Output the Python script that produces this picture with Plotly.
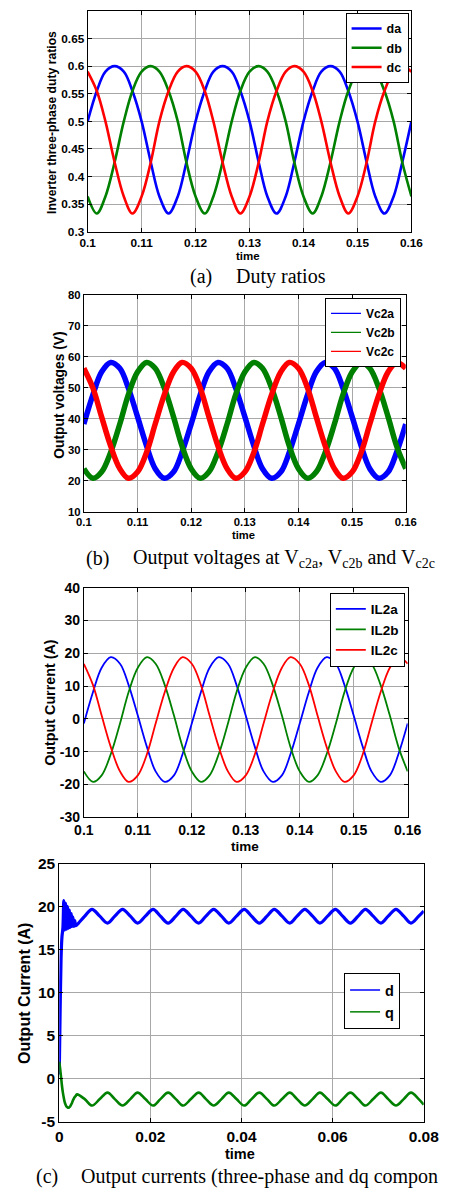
import plotly.graph_objects as go

W, H = 451, 1194

# ---------------- data ----------------
t_abc = [0.1, 0.1017, 0.1033, 0.105, 0.1067, 0.1083, 0.11, 0.1117, 0.1133, 0.115, 0.1167, 0.1183,
         0.12, 0.1217, 0.1233, 0.125, 0.1267, 0.1283, 0.13, 0.1317, 0.1333, 0.135, 0.1367, 0.1383,
         0.14, 0.1417, 0.1433, 0.145, 0.1467, 0.1483, 0.15, 0.1517, 0.1533, 0.155, 0.1567, 0.1583,
         0.16]

da = [0.500, 0.555, 0.590, 0.600, 0.590, 0.555, 0.500, 0.426, 0.364, 0.333, 0.364, 0.426,
      0.500, 0.555, 0.590, 0.600, 0.590, 0.555, 0.500, 0.426, 0.364, 0.333, 0.364, 0.426,
      0.500, 0.555, 0.590, 0.600, 0.590, 0.555, 0.500, 0.426, 0.364, 0.333, 0.364, 0.426,
      0.500]
db = [0.364, 0.333, 0.364, 0.426, 0.500, 0.555, 0.590, 0.600, 0.590, 0.555, 0.500, 0.426,
      0.364, 0.333, 0.364, 0.426, 0.500, 0.555, 0.590, 0.600, 0.590, 0.555, 0.500, 0.426,
      0.364, 0.333, 0.364, 0.426, 0.500, 0.555, 0.590, 0.600, 0.590, 0.555, 0.500, 0.426,
      0.364]
dc = [0.590, 0.555, 0.500, 0.426, 0.364, 0.333, 0.364, 0.426, 0.500, 0.555, 0.590, 0.600,
      0.590, 0.555, 0.500, 0.426, 0.364, 0.333, 0.364, 0.426, 0.500, 0.555, 0.590, 0.600,
      0.590, 0.555, 0.500, 0.426, 0.364, 0.333, 0.364, 0.426, 0.500, 0.555, 0.590, 0.600,
      0.590]

vc2a = [38.3, 47.8, 55.1, 58.2, 56.3, 49.9, 40.7, 31.2, 23.9, 20.8, 22.8, 29.2,
        38.3, 47.8, 55.1, 58.2, 56.3, 49.9, 40.7, 31.2, 23.9, 20.8, 22.8, 29.2,
        38.3, 47.8, 55.1, 58.2, 56.3, 49.9, 40.7, 31.2, 23.9, 20.8, 22.8, 29.2,
        38.3]
vc2b = [23.9, 20.8, 22.8, 29.2, 38.3, 47.8, 55.1, 58.2, 56.3, 49.9, 40.7, 31.2,
        23.9, 20.8, 22.8, 29.2, 38.3, 47.8, 55.1, 58.2, 56.3, 49.9, 40.7, 31.2,
        23.9, 20.8, 22.8, 29.2, 38.3, 47.8, 55.1, 58.2, 56.3, 49.9, 40.7, 31.2,
        23.9]
vc2c = [56.3, 49.9, 40.7, 31.2, 23.9, 20.8, 22.8, 29.2, 38.3, 47.8, 55.1, 58.2,
        56.3, 49.9, 40.7, 31.2, 23.9, 20.8, 22.8, 29.2, 38.3, 47.8, 55.1, 58.2,
        56.3, 49.9, 40.7, 31.2, 23.9, 20.8, 22.8, 29.2, 38.3, 47.8, 55.1, 58.2,
        56.3]

il2a = [-1.4, 8.2, 15.6, 18.8, 16.8, 10.3, 1.0, -8.6, -16.0, -19.2, -17.2, -10.7,
        -1.4, 8.2, 15.6, 18.8, 16.8, 10.3, 1.0, -8.6, -16.0, -19.2, -17.2, -10.7,
        -1.4, 8.2, 15.6, 18.8, 16.8, 10.3, 1.0, -8.6, -16.0, -19.2, -17.2, -10.7,
        -1.4]
il2b = [-16.0, -19.2, -17.2, -10.7, -1.4, 8.2, 15.6, 18.8, 16.8, 10.3, 1.0, -8.6,
        -16.0, -19.2, -17.2, -10.7, -1.4, 8.2, 15.6, 18.8, 16.8, 10.3, 1.0, -8.6,
        -16.0, -19.2, -17.2, -10.7, -1.4, 8.2, 15.6, 18.8, 16.8, 10.3, 1.0, -8.6,
        -16.0]
il2c = [16.8, 10.3, 1.0, -8.6, -16.0, -19.2, -17.2, -10.7, -1.4, 8.2, 15.6, 18.8,
        16.8, 10.3, 1.0, -8.6, -16.0, -19.2, -17.2, -10.7, -1.4, 8.2, 15.6, 18.8,
        16.8, 10.3, 1.0, -8.6, -16.0, -19.2, -17.2, -10.7, -1.4, 8.2, 15.6, 18.8,
        16.8]

t_dq = [0.0, 0.0002, 0.0004, 0.0006, 0.0008, 0.0010, 0.0012, 0.0014, 0.0016, 0.0018,
        0.0020, 0.0022, 0.0024, 0.0026, 0.0028, 0.0030, 0.0032, 0.0034, 0.0036,
        0.0039, 0.0056, 0.0072, 0.0089, 0.0106, 0.0122, 0.0139, 0.0156, 0.0172, 0.0189,
        0.0206, 0.0222, 0.0239, 0.0256, 0.0272, 0.0289, 0.0306, 0.0322, 0.0339, 0.0356,
        0.0372, 0.0389, 0.0406, 0.0422, 0.0439, 0.0456, 0.0472, 0.0489, 0.0506, 0.0522,
        0.0539, 0.0556, 0.0572, 0.0589, 0.0606, 0.0622, 0.0639, 0.0656, 0.0672, 0.0689,
        0.0706, 0.0722, 0.0739, 0.0756, 0.0772, 0.0789, 0.08]
i_d = [0.5, 8.0, 14.0, 16.5, 17.5, 20.7, 17.3, 20.4, 17.4, 20.0,
       17.5, 19.6, 17.6, 19.2, 17.7, 18.8, 17.7, 18.4, 17.8,
       17.9, 18.9, 19.7, 18.9, 18.1, 18.9, 19.7, 18.9, 18.1, 18.9,
       19.7, 18.9, 18.1, 18.9, 19.7, 18.9, 18.1, 18.9, 19.7, 18.9,
       18.1, 18.9, 19.7, 18.9, 18.1, 18.9, 19.7, 18.9, 18.1, 18.9,
       19.7, 18.9, 18.1, 18.9, 19.7, 18.9, 18.1, 18.9, 19.7, 18.9,
       18.1, 18.9, 19.7, 18.9, 18.1, 18.9, 19.5]
i_q = [2.0, 1.2, 0.2, -0.8, -1.6, -2.2, -2.7, -3.0, -3.2, -3.3,
       -3.35, -3.3, -3.2, -3.0, -2.8, -2.5, -2.3, -2.1, -2.0,
       -1.8, -2.35, -3.1, -2.35, -1.6, -2.35, -3.1, -2.35, -1.6, -2.35,
       -3.1, -2.35, -1.6, -2.35, -3.1, -2.35, -1.6, -2.35, -3.1, -2.35,
       -1.6, -2.35, -3.1, -2.35, -1.6, -2.35, -3.1, -2.35, -1.6, -2.35,
       -3.1, -2.35, -1.6, -2.35, -3.1, -2.35, -1.6, -2.35, -3.1, -2.35,
       -1.6, -2.35, -3.1, -2.35, -1.6, -2.35, -3.0]

x_ticks_abc = [0.1, 0.11, 0.12, 0.13, 0.14, 0.15, 0.16]
x_ticklabels_abc = ["0.1", "0.11", "0.12", "0.13", "0.14", "0.15", "0.16"]
y_ticks_duty = [0.3, 0.35, 0.4, 0.45, 0.5, 0.55, 0.6, 0.65]
y_ticklabels_duty = ["0.3", "0.35", "0.4", "0.45", "0.5", "0.55", "0.6", "0.65"]
y_ticks_v = [10, 20, 30, 40, 50, 60, 70, 80]
y_ticklabels_v = ["10", "20", "30", "40", "50", "60", "70", "80"]
y_ticks_i = [-30, -20, -10, 0, 10, 20, 30, 40]
y_ticklabels_i = ["-30", "-20", "-10", "0", "10", "20", "30", "40"]
x_ticks_dq = [0, 0.02, 0.04, 0.06, 0.08]
x_ticklabels_dq = ["0", "0.02", "0.04", "0.06", "0.08"]
y_ticks_dq = [-5, 0, 5, 10, 15, 20, 25]
y_ticklabels_dq = ["-5", "0", "5", "10", "15", "20", "25"]

# ---------------- styling ----------------
SANS = "Liberation Sans, Arial, sans-serif"
SERIF = "Liberation Serif, Times New Roman, serif"
BLUE, GREEN, RED = "#0000ff", "#008000", "#ff0000"
GRID = "#a8a8a8"


def fx(p):
    return p / W


def fy(p):
    return 1 - p / H


def axstyle(size):
    return dict(showline=True, linecolor="black", linewidth=1, mirror="allticks",
                ticks="inside", ticklen=4, tickcolor="black", tickwidth=1,
                showgrid=True, gridcolor=GRID, gridwidth=1, zeroline=False,
                tickfont=dict(family=SANS, size=size, color="black", weight="bold"))


fig = go.Figure()

# panel 1
for name, y, c in [("da", da, BLUE), ("db", db, GREEN), ("dc", dc, RED)]:
    fig.add_trace(go.Scatter(x=t_abc, y=y, name=name, mode="lines",
                             line=dict(color=c, width=2.6, shape="spline"),
                             xaxis="x", yaxis="y", legend="legend"))
# panel 2 (thick band data, thin legend lines)
for name, y, c in [("Vc2a", vc2a, BLUE), ("Vc2b", vc2b, GREEN), ("Vc2c", vc2c, RED)]:
    fig.add_trace(go.Scatter(x=t_abc, y=y, name=name, mode="lines", showlegend=False,
                             line=dict(color=c, width=5.5, shape="spline"),
                             xaxis="x2", yaxis="y2"))
for name, c in [("Vc2a", BLUE), ("Vc2b", GREEN), ("Vc2c", RED)]:
    fig.add_trace(go.Scatter(x=[None], y=[None], name=name, mode="lines",
                             line=dict(color=c, width=1.2),
                             xaxis="x2", yaxis="y2", legend="legend2"))
# panel 3
for name, y, c in [("IL2a", il2a, BLUE), ("IL2b", il2b, GREEN), ("IL2c", il2c, RED)]:
    fig.add_trace(go.Scatter(x=t_abc, y=y, name=name, mode="lines",
                             line=dict(color=c, width=1.8, shape="spline"),
                             xaxis="x3", yaxis="y3", legend="legend3"))
# panel 4
fig.add_trace(go.Scatter(x=t_dq, y=i_d, name="d", mode="lines", showlegend=False,
                         line=dict(color=BLUE, width=3.2, shape="spline"),
                         xaxis="x4", yaxis="y4"))
fig.add_trace(go.Scatter(x=t_dq, y=i_q, name="q", mode="lines", showlegend=False,
                         line=dict(color=GREEN, width=2.6, shape="spline"),
                         xaxis="x4", yaxis="y4"))
for name, c in [("d", BLUE), ("q", GREEN)]:
    fig.add_trace(go.Scatter(x=[None], y=[None], name=name, mode="lines",
                             line=dict(color=c, width=1.5),
                             xaxis="x4", yaxis="y4", legend="legend4"))

# panel geometry in pixels: (left, right, top, bottom)
P1 = (82, 424, 2, 226)
P2 = (78, 418, 290, 510)
P3 = (78, 420, 587, 820)
P4 = (52, 437, 867, 1129)


def dom(p):
    return [fx(p[0]), fx(p[1])], [fy(p[3]), fy(p[2])]


d1x, d1y = dom(P1)
d2x, d2y = dom(P2)
d3x, d3y = dom(P3)
d4x, d4y = dom(P4)

layout = dict(
    width=W, height=H, margin=dict(l=0, r=0, t=0, b=0, pad=0),
    paper_bgcolor="white", plot_bgcolor="white", showlegend=True,
    xaxis=dict(domain=d1x, anchor="y", range=[0.1, 0.16], tickvals=x_ticks_abc,
               ticktext=x_ticklabels_abc, **axstyle(11.8)),
    yaxis=dict(domain=d1y, anchor="x", range=[0.3, 0.7], tickvals=y_ticks_duty,
               ticktext=y_ticklabels_duty, **axstyle(11.8)),
    xaxis2=dict(domain=d2x, anchor="y2", range=[0.1, 0.16], tickvals=x_ticks_abc,
                ticktext=x_ticklabels_abc, **axstyle(11.3)),
    yaxis2=dict(domain=d2y, anchor="x2", range=[10, 80], tickvals=y_ticks_v,
                ticktext=y_ticklabels_v, **axstyle(11.3)),
    xaxis3=dict(domain=d3x, anchor="y3", range=[0.1, 0.16], tickvals=x_ticks_abc,
                ticktext=x_ticklabels_abc, **axstyle(14)),
    yaxis3=dict(domain=d3y, anchor="x3", range=[-30, 40], tickvals=y_ticks_i,
                ticktext=y_ticklabels_i, **axstyle(14)),
    xaxis4=dict(domain=d4x, anchor="y4", range=[0, 0.08], tickvals=x_ticks_dq,
                ticktext=x_ticklabels_dq, **axstyle(15.5)),
    yaxis4=dict(domain=d4y, anchor="x4", range=[-5, 25], tickvals=y_ticks_dq,
                ticktext=y_ticklabels_dq, **axstyle(15.5)),
)


def leg(xr, yt, size):
    return dict(x=fx(xr), y=fy(yt), xanchor="right", yanchor="top", bgcolor="white",
                bordercolor="black", borderwidth=1, itemwidth=30, tracegroupgap=0,
                font=dict(family=SANS, size=size, color="black", weight="bold"))


layout["legend"] = leg(421, 4, 12.5)
layout["legend2"] = leg(413, 293, 12)
layout["legend3"] = leg(417, 592, 13.5)
layout["legend4"] = leg(412, 978, 14.5)
fig.update_layout(**layout)

ann = []


def text(s, x, y, size, font=SANS, bold=True, angle=0, xanchor="center"):
    f = dict(family=font, size=size, color="black")
    if bold:
        f["weight"] = "bold"
    ann.append(dict(text=s, x=fx(x), y=fy(y), xref="paper", yref="paper", showarrow=False,
                    textangle=angle, xanchor=xanchor, yanchor="middle", font=f))


text("Inverter three-phase duty ratios", 45, 115, 12.2, angle=-90)
text("Output voltages (V)", 52, 392, 13.8, angle=-90)
text("Output Current (A)", 42, 703, 14.3, angle=-90)
text("Output Current (A)", 16, 999, 16, angle=-90)
text("time", 251, 251, 11.5)
text("time", 247, 534, 11.2)
text("time", 248, 850, 13.5)
text("time", 243, 1162, 14.5)

text("(a)", 188, 271, 20, font=SERIF, bold=False, xanchor="left")
text("Duty ratios", 237, 271, 20, font=SERIF, bold=False, xanchor="left")
text("(b)", 78, 557, 20, font=SERIF, bold=False, xanchor="left")
text("Output voltages at V<sub>c2a</sub>, V<sub>c2b</sub> and V<sub>c2c</sub>", 128, 557, 20,
     font=SERIF, bold=False, xanchor="left")
text("(c)", 25, 1184, 20, font=SERIF, bold=False, xanchor="left")
text("Output currents (three-phase and dq compon", 73, 1184, 20, font=SERIF, bold=False,
     xanchor="left")

fig.update_layout(annotations=ann)
fig.write_html("out.html",
               config={"displayModeBar": False, "staticPlot": True},
               post_script="document.body.style.margin='0px';"
                           "document.body.style.overflow='hidden';"
                           "document.documentElement.style.overflow='hidden';")
